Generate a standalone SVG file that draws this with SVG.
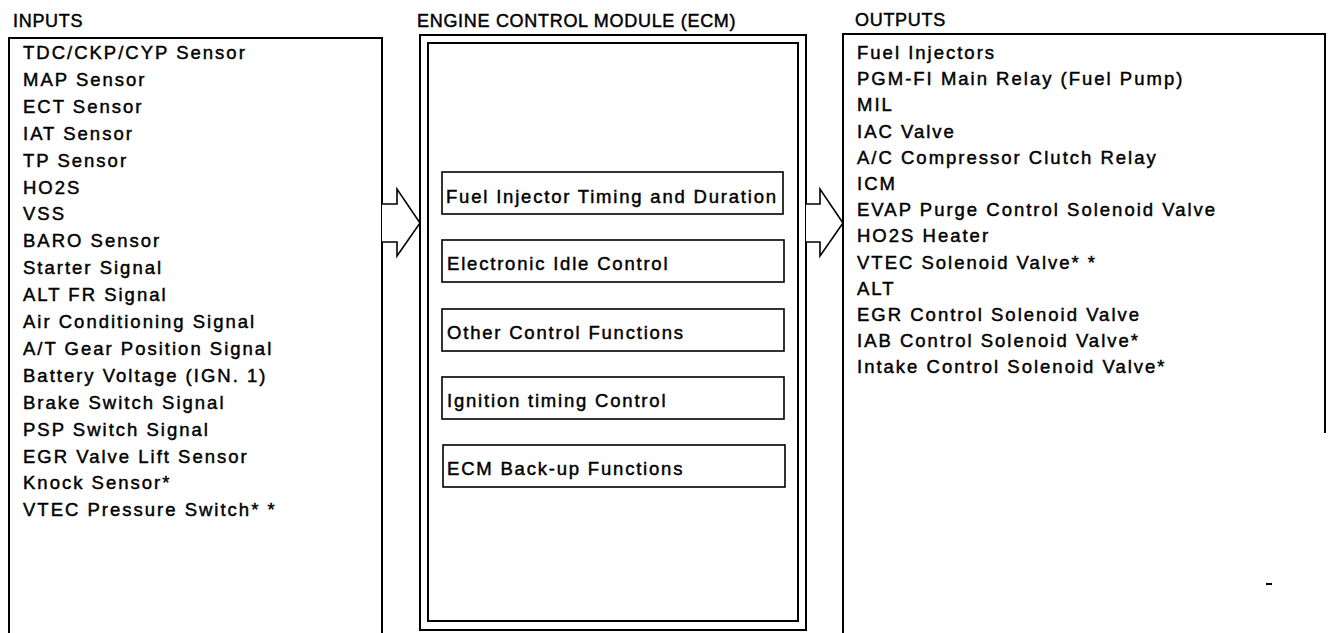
<svg xmlns="http://www.w3.org/2000/svg" width="1328" height="633" viewBox="0 0 1328 633">
<style>
  text { font-family: "Liberation Sans", Arial, sans-serif; font-size: 18.5px; letter-spacing: 2px; fill: #000; stroke: #000; stroke-width: 0.45px; }
  text.title { font-size: 18px; letter-spacing: 0.7px; }
  text.fnt { letter-spacing: 1.8px; }
  .frame { fill: none; stroke: #000; stroke-width: 2; }
  .fn { fill: #fff; stroke: #000; stroke-width: 1.6; }
  .arrow { fill: #fff; stroke: #000; stroke-width: 1.6; stroke-linejoin: miter; }
</style>
<rect width="1328" height="633" fill="#fff"/>

<g id="inputs">
  <text class="title" x="13" y="27">INPUTS</text>
  <polyline class="frame" points="9,633 9,38 382,38 382,633"/>
  <g id="inputs-list">
    <text x="23" y="59">TDC/CKP/CYP Sensor</text>
    <text x="23" y="85.9">MAP Sensor</text>
    <text x="23" y="112.8">ECT Sensor</text>
    <text x="23" y="139.7">IAT Sensor</text>
    <text x="23" y="166.6">TP Sensor</text>
    <text x="23" y="193.5">HO2S</text>
    <text x="23" y="220.4">VSS</text>
    <text x="23" y="247.3">BARO Sensor</text>
    <text x="23" y="274.2">Starter Signal</text>
    <text x="23" y="301.1">ALT FR Signal</text>
    <text x="23" y="328">Air Conditioning Signal</text>
    <text x="23" y="354.9">A/T Gear Position Signal</text>
    <text x="23" y="381.8">Battery Voltage (IGN. 1)</text>
    <text x="23" y="408.7">Brake Switch Signal</text>
    <text x="23" y="435.6">PSP Switch Signal</text>
    <text x="23" y="462.5">EGR Valve Lift Sensor</text>
    <text x="23" y="489.4">Knock Sensor*</text>
    <text x="23" y="516.3">VTEC Pressure Switch* *</text>
  </g>
</g>

<g id="ecm">
  <text class="title" x="417" y="27">ENGINE CONTROL MODULE (ECM)</text>
  <rect class="frame" x="420" y="35" width="386" height="595"/>
  <rect class="frame" x="428" y="43" width="370" height="578" stroke-width="1.6"/>
</g>

<g id="fn-fuel">
  <rect class="fn" x="442" y="172" width="341" height="42"/>
  <text class="fnt" x="446" y="203">Fuel Injector Timing and Duration</text>
</g>
<g id="fn-idle">
  <rect class="fn" x="442" y="240" width="342" height="42"/>
  <text class="fnt" x="447" y="270">Electronic Idle Control</text>
</g>
<g id="fn-other">
  <rect class="fn" x="442" y="309" width="342" height="42"/>
  <text class="fnt" x="447" y="339">Other Control Functions</text>
</g>
<g id="fn-ignition">
  <rect class="fn" x="442" y="377" width="342" height="42"/>
  <text class="fnt" x="447" y="407">Ignition timing Control</text>
</g>
<g id="fn-backup">
  <rect class="fn" x="443" y="445" width="342" height="42"/>
  <text class="fnt" x="447" y="475">ECM Back-up Functions</text>
</g>

<g id="outputs">
  <text class="title" x="855" y="26">OUTPUTS</text>
  <polyline class="frame" points="843,633 843,34 1325,34 1325,433"/>
  <g id="outputs-list">
    <text x="857" y="59">Fuel Injectors</text>
    <text x="857" y="85.2">PGM-FI Main Relay (Fuel Pump)</text>
    <text x="857" y="111.4">MIL</text>
    <text x="857" y="137.6">IAC Valve</text>
    <text x="857" y="163.8">A/C Compressor Clutch Relay</text>
    <text x="857" y="190">ICM</text>
    <text x="857" y="216.2">EVAP Purge Control Solenoid Valve</text>
    <text x="857" y="242.4">HO2S Heater</text>
    <text x="857" y="268.6">VTEC Solenoid Valve* *</text>
    <text x="857" y="294.8">ALT</text>
    <text x="857" y="321">EGR Control Solenoid Valve</text>
    <text x="857" y="347.2">IAB Control Solenoid Valve*</text>
    <text x="857" y="373.4">Intake Control Solenoid Valve*</text>
  </g>
  <line x1="1266" y1="584" x2="1272" y2="584" stroke="#000" stroke-width="2"/>
</g>

<g id="connectors">
  <polyline class="arrow" points="382,204 397,204 397,189 420,223 397,256 397,242 382,242"/>
  <polyline class="arrow" points="806,204 820,204 820,189 843,223 820,256 820,242 806,242"/>
</g>
</svg>
